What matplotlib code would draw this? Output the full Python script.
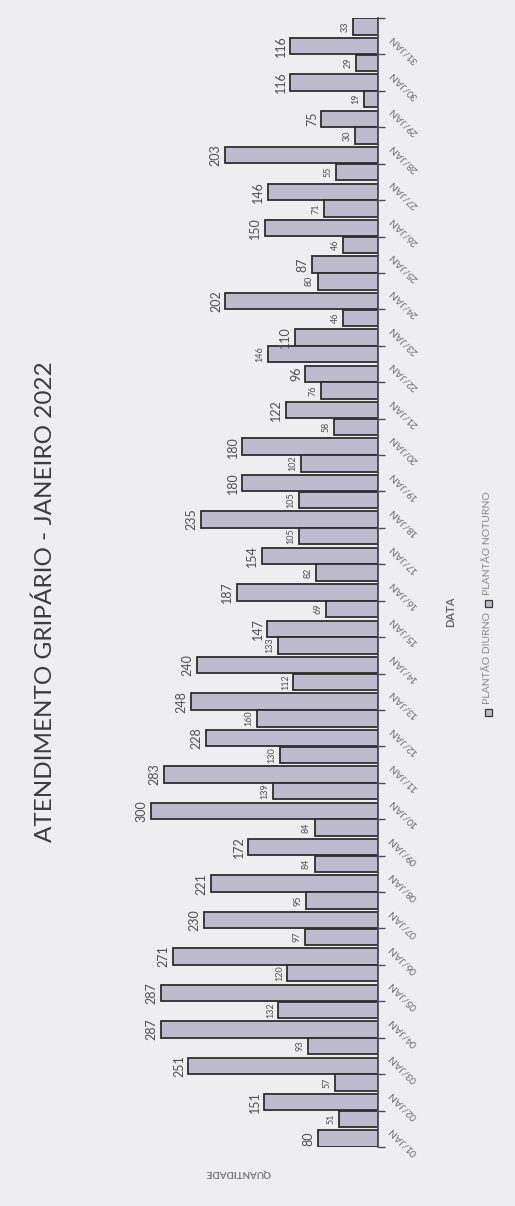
import matplotlib
matplotlib.use("Agg")
import matplotlib.pyplot as plt
from matplotlib.patches import Rectangle

plt.rcParams['font.family'] = ['Lato', 'DejaVu Sans']

# ---- data ----
dias = ['01/JAN', '02/JAN', '03/JAN', '04/JAN', '05/JAN', '06/JAN', '07/JAN', '08/JAN',
        '09/JAN', '10/JAN', '11/JAN', '12/JAN', '13/JAN', '14/JAN', '15/JAN', '16/JAN',
        '17/JAN', '18/JAN', '19/JAN', '20/JAN', '21/JAN', '22/JAN', '23/JAN', '24/JAN',
        '25/JAN', '26/JAN', '27/JAN', '28/JAN', '29/JAN', '30/JAN', '31/JAN']
diurno = [80, 151, 251, 287, 287, 271, 230, 221, 172, 300, 283, 228, 248, 240, 147, 187,
          154, 235, 180, 180, 122, 96, 110, 202, 87, 150, 146, 203, 75, 116, 116]
noturno = [51, 57, 93, 132, 120, 97, 95, 84, 84, 139, 130, 160, 112, 133, 69, 82,
           105, 105, 102, 58, 76, 146, 46, 80, 46, 71, 55, 30, 19, 29, 33]
series_names = ['PLANTÃO DIURNO', 'PLANTÃO NOTURNO']
titulo = 'ATENDIMENTO GRIPÁRIO - JANEIRO 2022'

W, H = 515, 1206
bg = '#eeeef1'
bar_fc = '#bfbbce'
bar_ec = '#2e2e2e'

fig = plt.figure(figsize=(W / 100, H / 100), dpi=100, facecolor=bg)

def fx(px):
    return px / W

def fy(py):
    return 1 - py / H

axis_x = 378
left_px = 91
top_px, bot_px = 18, 1147
ax = fig.add_axes([fx(left_px), fy(bot_px), (axis_x - left_px) / W, (bot_px - top_px) / H])
ax.set_facecolor('none')

n = len(dias)
pos = list(range(n))
off, h = 0.27, 0.45
ax.barh([p - off for p in pos], diurno, height=h, color=bar_fc, edgecolor=bar_ec, linewidth=1.3)
ax.barh([p + off for p in pos], noturno, height=h, color=bar_fc, edgecolor=bar_ec, linewidth=1.3)

ax.set_xlim(380, 0)
ax.set_ylim(-0.5, n - 0.5)

for p, v in zip(pos, diurno):
    ax.annotate(str(v), (v, p - off), xytext=(-2.5, 0), textcoords='offset points',
                ha='right', va='center', rotation=90, fontsize=9, color='#505050')
for p, v in zip(pos, noturno):
    ax.annotate(str(v), (v, p + off), xytext=(-2.5, 0), textcoords='offset points',
                ha='right', va='center', rotation=90, fontsize=6.5, color='#505050')

for s in ['left', 'top', 'bottom']:
    ax.spines[s].set_visible(False)
ax.spines['right'].set_color('#4a4a5a')
ax.spines['right'].set_linewidth(1.3)
ax.xaxis.set_visible(False)

ax.yaxis.tick_right()
ax.set_yticks(pos)
ax.set_yticklabels(dias)
ax.set_yticks([p - 0.5 for p in range(n + 1)], minor=True)
ax.tick_params(axis='y', which='major', length=0, pad=9, labelsize=7.5, labelcolor='#707070')
ax.tick_params(axis='y', which='minor', length=5, width=1, color='#4a4a5a', direction='out')
for lbl in ax.get_yticklabels():
    lbl.set_rotation(135)
    lbl.set_rotation_mode('anchor')
    lbl.set_ha('right')
    lbl.set_va('center')

# title
fig.text(fx(45), fy(602), titulo, rotation=90, ha='center', va='center',
         fontsize=17.5, color='#3c3c3c')

# axis titles
fig.text(fx(238), fy(1173), 'QUANTIDADE', rotation=180, ha='center', va='center',
         fontsize=7, fontweight='bold', color='#7a7a7a')
fig.text(fx(451), fy(612), 'DATA', rotation=90, ha='center', va='center',
         fontsize=8, fontweight='bold', color='#6a6a6a')

# legend (vertical)
leg_x = 488
sq = 7
for name, mk_y, txt_y in [(series_names[0], 712, 704), (series_names[1], 603, 595)]:
    fig.add_artist(Rectangle((fx(leg_x - sq / 2), fy(mk_y + sq / 2)), sq / W, sq / H,
                             transform=fig.transFigure, facecolor=bar_fc,
                             edgecolor='#3a3a3a', linewidth=0.9))
    fig.text(fx(leg_x), fy(txt_y), name, rotation=90, ha='center', va='bottom',
             fontsize=7.5, color='#8a8a8a')

fig.savefig('out.png', dpi=100, facecolor=bg)
